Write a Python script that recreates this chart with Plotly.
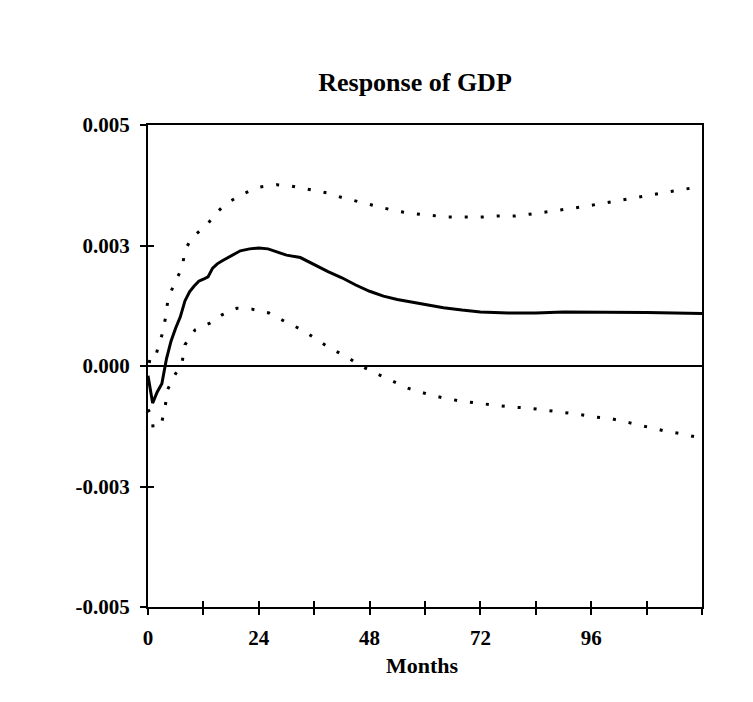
import plotly.graph_objects as go

# Impulse response of GDP (solid line)
months_irf = [0, 1, 2, 3, 4, 5, 6, 7, 8, 9, 10, 11, 12, 13, 14, 15, 16, 18, 20, 22, 24,
              26, 28, 30, 33, 36, 39, 42, 45, 48, 51, 54, 57, 60, 64, 68, 72, 78, 84,
              90, 96, 102, 108, 114, 120]
irf = [-0.0002, -0.00077, -0.00054, -0.00037, 0.00015, 0.00052, 0.00079, 0.00102,
       0.00135, 0.00154, 0.00166, 0.00176, 0.00180, 0.00185, 0.00203, 0.00212, 0.00218,
       0.00228, 0.00239, 0.00243, 0.00245, 0.00243, 0.00237, 0.00230, 0.00225, 0.00210,
       0.00196, 0.00183, 0.00168, 0.00155, 0.00145, 0.00138, 0.00133, 0.00128, 0.00121,
       0.00116, 0.00112, 0.00110, 0.00110, 0.00112, 0.00112, 0.00112, 0.00111, 0.00110,
       0.00109]

# Upper confidence band (dotted)
months_upper = [0, 1.3, 2.2, 3.2, 3.9, 4.3, 5.8, 7.4, 8, 9.7, 12.8, 14.7, 17.1, 20.6, 24,
                27.9, 31.2, 34.7, 38.8, 42.2, 45.9, 49.8, 53.5, 56.8, 60.7, 64.8, 68, 72.3,
                75.6, 79.5, 82.7, 86.6, 90.3, 94, 97.5, 101.2, 104.8, 108.3, 112, 115.7, 120]
upper = [0.0001, 0.00008, 0.00039, 0.0007, 0.00106, 0.00137, 0.00174, 0.00203, 0.00241,
         0.00268, 0.00293, 0.00317, 0.00338, 0.00357, 0.00371, 0.00376, 0.00373, 0.00367,
         0.00359, 0.00349, 0.0034, 0.0033, 0.00322, 0.00317, 0.00313, 0.00309, 0.00309,
         0.00309, 0.00311, 0.00311, 0.00315, 0.0032, 0.00324, 0.0033, 0.00336, 0.00342,
         0.00349, 0.00355, 0.00361, 0.00367, 0.00373]

# Lower confidence band (dotted)
months_lower = [0, 0.9, 1.1, 3, 3.7, 4.3, 5.8, 7.4, 8, 10.2, 13.4, 16, 19.3, 22.5, 26.2,
                29.9, 33.4, 36.2, 39.4, 43.1, 45.7, 49.8, 53.1, 56.3, 60.4, 63.9, 67.8,
                71.5, 75.2, 78.4, 82.1, 85.6, 89.7, 93.1, 97, 100.7, 104.4, 108.1, 112,
                115.7, 120]
lower = [-0.0009, -0.00106, -0.00129, -0.00116, -0.00085, -0.00048, -0.00019, 0.00008,
         0.00044, 0.00075, 0.00089, 0.00106, 0.0012, 0.00118, 0.0011, 0.00091, 0.00075,
         0.00058, 0.00037, 0.00019, 0.00002, -0.00017, -0.00031, -0.00046, -0.00058,
         -0.00066, -0.00073, -0.00077, -0.00081, -0.00085, -0.00087, -0.00091, -0.00095,
         -0.001, -0.00106, -0.0011, -0.00118, -0.00127, -0.00135, -0.00141, -0.0015]

y_tickvals = [-0.005, -0.0025, 0.0, 0.0025, 0.005]
y_ticktext = ["-0.005", "-0.003", "0.000", "0.003", "0.005"]
x_tickvals = [0, 24, 48, 72, 96]
x_ticktext = ["0", "24", "48", "72", "96"]

SERIF = "Liberation Serif, Times New Roman, serif"
tick_font = dict(family=SERIF, size=21, color="black", weight="bold")

fig = go.Figure()
fig.add_trace(go.Scatter(x=months_upper, y=upper, mode="lines",
                         line=dict(color="black", width=3, dash="3px,13px"),
                         showlegend=False, hoverinfo="skip"))
fig.add_trace(go.Scatter(x=months_lower, y=lower, mode="lines",
                         line=dict(color="black", width=3, dash="3px,13px"),
                         showlegend=False, hoverinfo="skip",
                         xaxis="x2", yaxis="y2"))
fig.add_trace(go.Scatter(x=months_irf, y=irf, mode="lines",
                         line=dict(color="black", width=3),
                         showlegend=False, hoverinfo="skip"))

xr = [0, 120]
yr = [-0.005, 0.005]

fig.update_layout(
    width=753, height=702,
    margin=dict(l=140, r=59, t=117, b=103),
    paper_bgcolor="white", plot_bgcolor="white",
    title=dict(text="Response of GDP", x=(415 - 8) / 753, xanchor="center",
               y=1 - 74 / 702, yanchor="middle",
               font=dict(family=SERIF, size=26, color="black", weight="bold")),
    xaxis=dict(range=xr, tickvals=x_tickvals, ticktext=x_ticktext,
               showline=True, linecolor="black", linewidth=2, mirror=True,
               ticks="outside", ticklen=6, tickwidth=1.5, tickcolor="black",
               minor=dict(ticks="outside", ticklen=6, tickwidth=1.5, tickcolor="black",
                          dtick=12, tick0=0),
               showgrid=False, zeroline=False, tickfont=tick_font,
               ticklabelstandoff=5),
    xaxis2=dict(range=xr, overlaying="x", anchor="y2", side="bottom",
                tickvals=x_tickvals, showticklabels=False,
                ticks="inside", ticklen=6, tickwidth=1.5, tickcolor="black",
                minor=dict(ticks="inside", ticklen=6, tickwidth=1.5, tickcolor="black",
                           dtick=12, tick0=0),
                showline=False, showgrid=False, zeroline=False),
    yaxis=dict(range=yr, tickvals=y_tickvals, ticktext=y_ticktext,
               showline=True, linecolor="black", linewidth=2, mirror=True,
               ticks="outside", ticklen=6, tickwidth=1.5, tickcolor="black",
               showgrid=False, zeroline=True, zerolinecolor="black", zerolinewidth=1.5,
               tickfont=tick_font, ticklabelstandoff=6),
    yaxis2=dict(range=yr, overlaying="y", anchor="x2", side="left",
                tickvals=y_tickvals, showticklabels=False,
                ticks="inside", ticklen=6, tickwidth=1.5, tickcolor="black",
                showline=False, showgrid=False, zeroline=False),
    annotations=[dict(text="Months", xref="paper", yref="paper",
                      x=(422 - 148) / 554, y=-(665 - 607) / 482,
                      xanchor="center", yanchor="middle", showarrow=False,
                      font=dict(family=SERIF, size=22, color="black", weight="bold"))],
)

fig.write_html("out.html")
